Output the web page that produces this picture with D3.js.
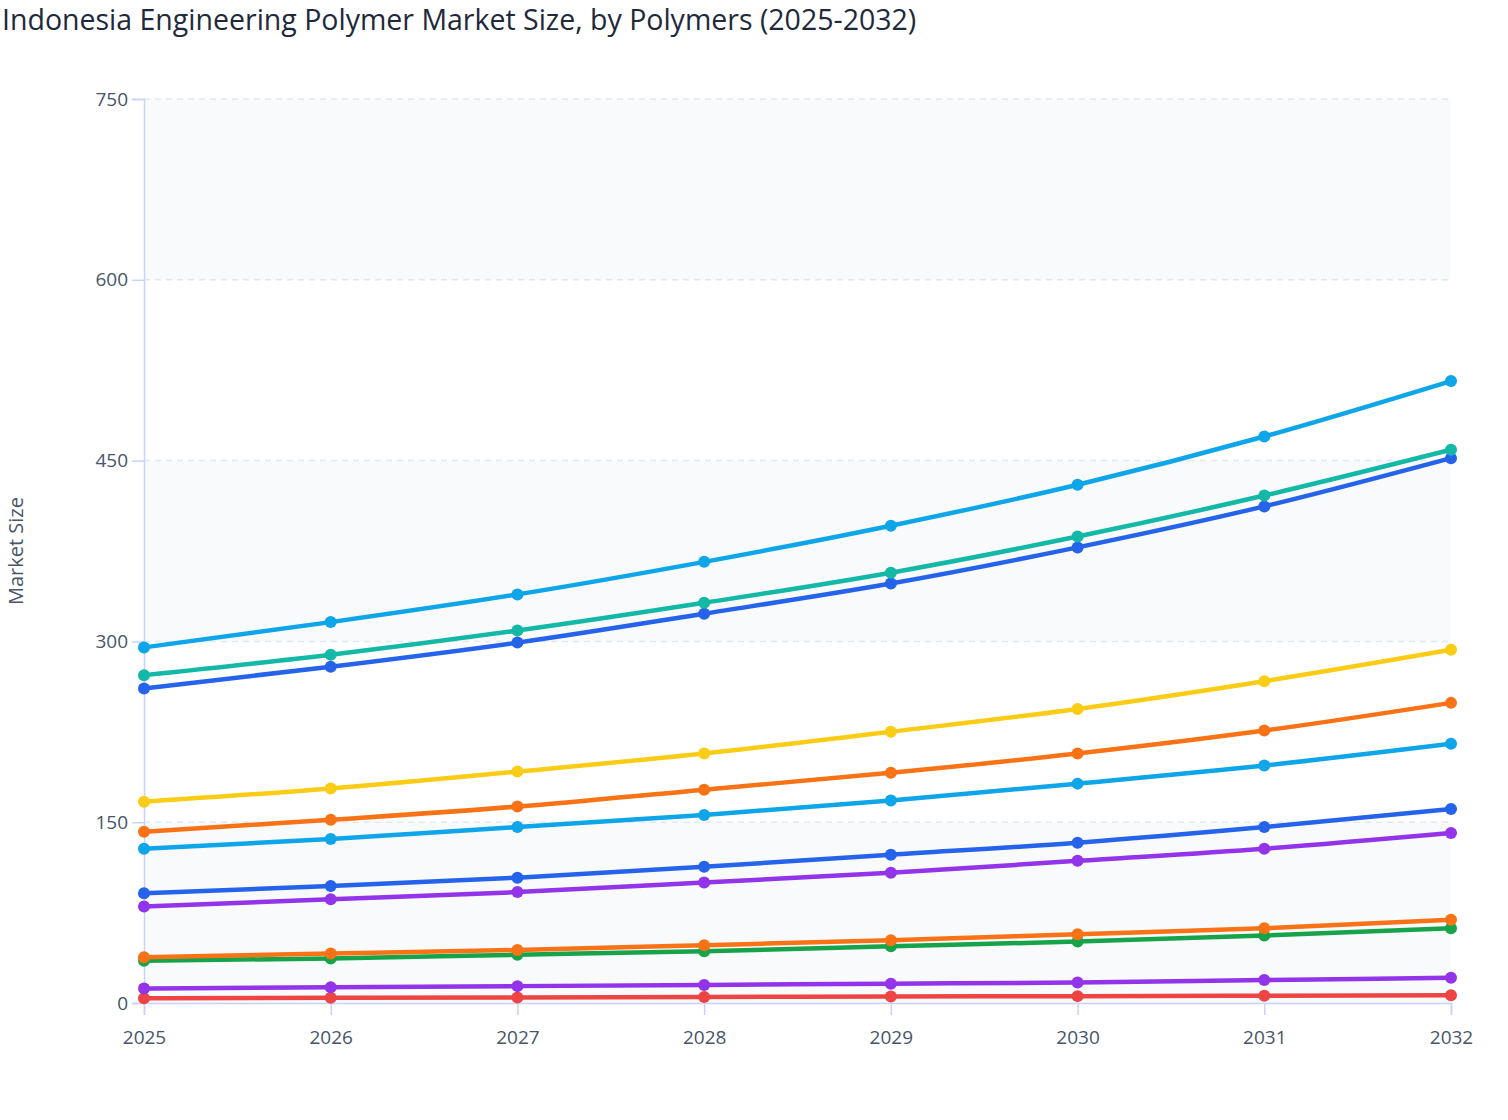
<!DOCTYPE html>
<html lang="en">
  <head>
    <meta charset="UTF-8" />
    <title>Indonesia Engineering Polymer Market Size</title>
    <script src="https://cdn.jsdelivr.net/npm/d3@7/dist/d3.min.js"></script>
    <style>
      body { margin: 0; background: #fff; font-family: "Open Sans", "Noto Sans", sans-serif; }
    </style>
  </head>
  <body>
    <div id="wrapper"></div>
    <script>
      const years = [2025, 2026, 2027, 2028, 2029, 2030, 2031, 2032];
      const yTicks = [0, 150, 300, 450, 600, 750];

      const seriesA = [295, 316, 339, 366, 396, 430, 470, 516];
      const seriesB = [272, 289, 309, 332, 357, 387, 421, 459];
      const seriesC = [261, 279, 299, 323, 348, 378, 412, 452];
      const seriesD = [167, 178, 192, 207, 225, 244, 267, 293];
      const seriesE = [142, 152, 163, 177, 191, 207, 226, 249];
      const seriesF = [128, 136, 146, 156, 168, 182, 197, 215];
      const seriesG = [91, 97, 104, 113, 123, 133, 146, 161];
      const seriesH = [80, 86, 92, 100, 108, 118, 128, 141];
      const seriesI = [38, 41, 44, 48, 52, 57, 62, 69];
      const seriesJ = [35, 37, 40, 43, 47, 51, 56, 62];
      const seriesK = [12, 13, 14, 15, 16, 17, 19, 21];
      const seriesL = [4, 4.3, 4.6, 5, 5.3, 5.7, 6, 6.5];

      const seriesList = [
        { values: seriesA, color: "#0ea5e9" },
        { values: seriesB, color: "#14b8a6" },
        { values: seriesC, color: "#2563eb" },
        { values: seriesD, color: "#facc15" },
        { values: seriesE, color: "#f97316" },
        { values: seriesF, color: "#0ea5e9" },
        { values: seriesG, color: "#2563eb" },
        { values: seriesH, color: "#9333ea" },
        { values: seriesI, color: "#f97316" },
        { values: seriesJ, color: "#16a34a" },
        { values: seriesK, color: "#9333ea" },
        { values: seriesL, color: "#ef4444" },
      ];

      const dimensions = {
        width: 1508,
        height: 1120,
        margin: { top: 99, right: 57, bottom: 117, left: 144 },
      };
      dimensions.boundedWidth =
        dimensions.width - dimensions.margin.left - dimensions.margin.right;
      dimensions.boundedHeight =
        dimensions.height - dimensions.margin.top - dimensions.margin.bottom;

      const svg = d3
        .select("#wrapper")
        .append("svg")
        .attr("width", dimensions.width)
        .attr("height", dimensions.height);

      svg
        .append("text")
        .attr("x", 2)
        .attr("y", 30)
        .attr("fill", "#1e293b")
        .style("font-size", "28.5px")
        .style("font-weight", 500)
        .text("Indonesia Engineering Polymer Market Size, by Polymers (2025-2032)");

      const bounds = svg
        .append("g")
        .attr("transform", `translate(${dimensions.margin.left},${dimensions.margin.top})`);

      const xScale = d3
        .scaleLinear()
        .domain(d3.extent(years))
        .range([0, dimensions.boundedWidth]);

      const yScale = d3
        .scaleLinear()
        .domain([0, 750])
        .range([dimensions.boundedHeight, 0]);

      // alternating bands
      const bands = d3.pairs(yTicks).filter((d, i) => i % 2 === 0);
      bounds
        .selectAll(".band")
        .data(bands)
        .join("rect")
        .attr("x", 0)
        .attr("width", dimensions.boundedWidth)
        .attr("y", (d) => yScale(d[1]))
        .attr("height", (d) => yScale(d[0]) - yScale(d[1]))
        .attr("fill", "#f8fafc");

      // grid
      bounds
        .selectAll(".grid")
        .data(yTicks.slice(1))
        .join("line")
        .attr("x1", 0)
        .attr("x2", dimensions.boundedWidth)
        .attr("y1", (d) => yScale(d))
        .attr("y2", (d) => yScale(d))
        .attr("stroke", "#e2e8f0")
        .attr("stroke-width", 1.5)
        .attr("stroke-dasharray", "6,5");

      const axisColor = "#c7d2fe";
      const yAxis = bounds
        .append("g")
        .call(d3.axisLeft(yScale).tickValues(yTicks).tickSize(12).tickPadding(4));
      const xAxis = bounds
        .append("g")
        .attr("transform", `translate(0,${dimensions.boundedHeight})`)
        .call(
          d3.axisBottom(xScale).tickValues(years).tickFormat(d3.format("d")).tickSize(12).tickPadding(16)
        );
      [xAxis, yAxis].forEach((ax) => {
        ax.select(".domain").attr("stroke", axisColor).attr("stroke-width", 1.5);
        ax.selectAll(".tick line").attr("stroke", axisColor).attr("stroke-width", 1.5);
        ax.selectAll(".tick text")
          .attr("fill", "#475569")
          .style("font-size", "19px")
          .style("font-family", '"Open Sans", "Noto Sans", sans-serif');
      });

      svg
        .append("text")
        .attr("transform", `translate(23,${dimensions.margin.top + dimensions.boundedHeight / 2}) rotate(-90)`)
        .attr("text-anchor", "middle")
        .attr("fill", "#475569")
        .style("font-size", "20px")
        .text("Market Size");

      const lineGenerator = d3
        .line()
        .x((d, i) => xScale(years[i]))
        .y((d) => yScale(d))
        .curve(d3.curveMonotoneX);

      const plotted = seriesList.slice().reverse();
      bounds
        .selectAll(".series")
        .data(plotted)
        .join("path")
        .attr("d", (s) => lineGenerator(s.values))
        .attr("fill", "none")
        .attr("stroke", (s) => s.color)
        .attr("stroke-width", 4.5);

      plotted.forEach((s) => {
        bounds
          .append("g")
          .selectAll("circle")
          .data(s.values)
          .join("circle")
          .attr("cx", (d, i) => xScale(years[i]))
          .attr("cy", (d) => yScale(d))
          .attr("r", 6)
          .attr("fill", s.color);
      });
    </script>
  </body>
</html>
